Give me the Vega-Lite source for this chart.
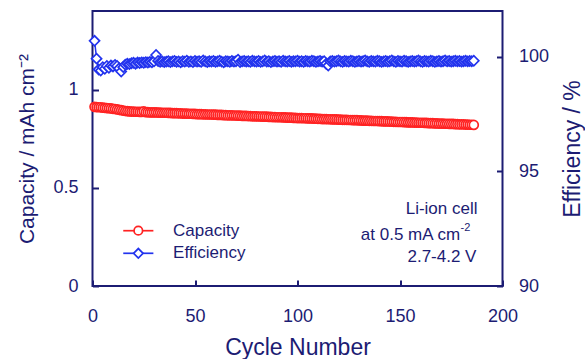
{
 "$schema": "https://vega.github.io/schema/vega-lite/v6.json",
 "width": 410, "height": 275,
 "autosize": "none",
 "padding": {"left": 92.5, "top": 11, "right": 82.5, "bottom": 73},
 "background": "white",
 "config": {
  "font": "Liberation Sans",
  "view": {"stroke": "#1c1c73", "strokeWidth": 2},
  "axis": {"domain": false, "grid": false, "tickColor": "#1c1c73", "tickWidth": 2, "tickSize": -6, "labelColor": "#1c1c73", "titleColor": "#1c1c73", "labelFont": "Liberation Sans", "titleFont": "Liberation Sans", "labelFontSize": 18, "titleFontSize": 21, "titleFontWeight": "normal", "labelFlush": false, "labelOverlap": false, "titleAlign": "center", "titleBaseline": "middle"}
 },
 "data": {"values": [
  {"cycle":1,"capacity":0.912,"efficiency":100.70},
  {"cycle":2,"capacity":0.911,"efficiency":99.92},
  {"cycle":3,"capacity":0.910,"efficiency":99.45},
  {"cycle":4,"capacity":0.910,"efficiency":99.40},
  {"cycle":5,"capacity":0.908,"efficiency":99.55},
  {"cycle":6,"capacity":0.907,"efficiency":99.48},
  {"cycle":7,"capacity":0.906,"efficiency":99.60},
  {"cycle":8,"capacity":0.905,"efficiency":99.52},
  {"cycle":9,"capacity":0.904,"efficiency":99.62},
  {"cycle":10,"capacity":0.902,"efficiency":99.58},
  {"cycle":11,"capacity":0.901,"efficiency":99.65},
  {"cycle":12,"capacity":0.899,"efficiency":99.60},
  {"cycle":13,"capacity":0.897,"efficiency":99.50},
  {"cycle":14,"capacity":0.895,"efficiency":99.36},
  {"cycle":15,"capacity":0.893,"efficiency":99.55},
  {"cycle":16,"capacity":0.891,"efficiency":99.66},
  {"cycle":17,"capacity":0.890,"efficiency":99.70},
  {"cycle":18,"capacity":0.889,"efficiency":99.68},
  {"cycle":19,"capacity":0.888,"efficiency":99.72},
  {"cycle":20,"capacity":0.888,"efficiency":99.74},
  {"cycle":21,"capacity":0.887,"efficiency":99.70},
  {"cycle":22,"capacity":0.887,"efficiency":99.75},
  {"cycle":23,"capacity":0.886,"efficiency":99.73},
  {"cycle":24,"capacity":0.886,"efficiency":99.76},
  {"cycle":25,"capacity":0.889,"efficiency":99.74},
  {"cycle":26,"capacity":0.885,"efficiency":99.77},
  {"cycle":27,"capacity":0.885,"efficiency":99.75},
  {"cycle":28,"capacity":0.884,"efficiency":99.78},
  {"cycle":29,"capacity":0.884,"efficiency":99.76},
  {"cycle":30,"capacity":0.884,"efficiency":99.80},
  {"cycle":31,"capacity":0.884,"efficiency":100.08},
  {"cycle":32,"capacity":0.883,"efficiency":99.82},
  {"cycle":33,"capacity":0.883,"efficiency":99.78},
  {"cycle":34,"capacity":0.882,"efficiency":99.80},
  {"cycle":35,"capacity":0.882,"efficiency":99.77},
  {"cycle":36,"capacity":0.882,"efficiency":99.79},
  {"cycle":37,"capacity":0.881,"efficiency":99.81},
  {"cycle":38,"capacity":0.881,"efficiency":99.77},
  {"cycle":39,"capacity":0.880,"efficiency":99.80},
  {"cycle":40,"capacity":0.880,"efficiency":99.82},
  {"cycle":41,"capacity":0.880,"efficiency":99.78},
  {"cycle":42,"capacity":0.879,"efficiency":99.80},
  {"cycle":43,"capacity":0.879,"efficiency":99.76},
  {"cycle":44,"capacity":0.878,"efficiency":99.81},
  {"cycle":45,"capacity":0.878,"efficiency":99.79},
  {"cycle":46,"capacity":0.878,"efficiency":99.83},
  {"cycle":47,"capacity":0.877,"efficiency":99.78},
  {"cycle":48,"capacity":0.877,"efficiency":99.80},
  {"cycle":49,"capacity":0.876,"efficiency":99.77},
  {"cycle":50,"capacity":0.876,"efficiency":99.82},
  {"cycle":51,"capacity":0.875,"efficiency":99.79},
  {"cycle":52,"capacity":0.875,"efficiency":99.81},
  {"cycle":53,"capacity":0.875,"efficiency":99.78},
  {"cycle":54,"capacity":0.874,"efficiency":99.84},
  {"cycle":55,"capacity":0.874,"efficiency":99.80},
  {"cycle":56,"capacity":0.873,"efficiency":99.77},
  {"cycle":57,"capacity":0.873,"efficiency":99.81},
  {"cycle":58,"capacity":0.873,"efficiency":99.79},
  {"cycle":59,"capacity":0.872,"efficiency":99.82},
  {"cycle":60,"capacity":0.872,"efficiency":99.78},
  {"cycle":61,"capacity":0.871,"efficiency":99.80},
  {"cycle":62,"capacity":0.871,"efficiency":99.83},
  {"cycle":63,"capacity":0.871,"efficiency":99.79},
  {"cycle":64,"capacity":0.870,"efficiency":99.76},
  {"cycle":65,"capacity":0.870,"efficiency":99.81},
  {"cycle":66,"capacity":0.869,"efficiency":99.80},
  {"cycle":67,"capacity":0.869,"efficiency":99.78},
  {"cycle":68,"capacity":0.869,"efficiency":99.82},
  {"cycle":69,"capacity":0.868,"efficiency":99.79},
  {"cycle":70,"capacity":0.868,"efficiency":99.81},
  {"cycle":71,"capacity":0.867,"efficiency":99.88},
  {"cycle":72,"capacity":0.867,"efficiency":99.77},
  {"cycle":73,"capacity":0.866,"efficiency":99.80},
  {"cycle":74,"capacity":0.866,"efficiency":99.82},
  {"cycle":75,"capacity":0.866,"efficiency":99.79},
  {"cycle":76,"capacity":0.865,"efficiency":99.81},
  {"cycle":77,"capacity":0.865,"efficiency":99.78},
  {"cycle":78,"capacity":0.864,"efficiency":99.83},
  {"cycle":79,"capacity":0.864,"efficiency":99.80},
  {"cycle":80,"capacity":0.864,"efficiency":99.79},
  {"cycle":81,"capacity":0.863,"efficiency":99.82},
  {"cycle":82,"capacity":0.863,"efficiency":99.78},
  {"cycle":83,"capacity":0.862,"efficiency":99.80},
  {"cycle":84,"capacity":0.862,"efficiency":99.84},
  {"cycle":85,"capacity":0.862,"efficiency":99.79},
  {"cycle":86,"capacity":0.861,"efficiency":99.81},
  {"cycle":87,"capacity":0.861,"efficiency":99.77},
  {"cycle":88,"capacity":0.860,"efficiency":99.80},
  {"cycle":89,"capacity":0.860,"efficiency":99.82},
  {"cycle":90,"capacity":0.859,"efficiency":99.79},
  {"cycle":91,"capacity":0.859,"efficiency":99.81},
  {"cycle":92,"capacity":0.859,"efficiency":99.78},
  {"cycle":93,"capacity":0.858,"efficiency":99.83},
  {"cycle":94,"capacity":0.858,"efficiency":99.80},
  {"cycle":95,"capacity":0.857,"efficiency":99.79},
  {"cycle":96,"capacity":0.857,"efficiency":99.82},
  {"cycle":97,"capacity":0.857,"efficiency":99.78},
  {"cycle":98,"capacity":0.856,"efficiency":99.81},
  {"cycle":99,"capacity":0.856,"efficiency":99.80},
  {"cycle":100,"capacity":0.855,"efficiency":99.83},
  {"cycle":101,"capacity":0.855,"efficiency":99.79},
  {"cycle":102,"capacity":0.855,"efficiency":99.81},
  {"cycle":103,"capacity":0.854,"efficiency":99.78},
  {"cycle":104,"capacity":0.854,"efficiency":99.82},
  {"cycle":105,"capacity":0.853,"efficiency":99.80},
  {"cycle":106,"capacity":0.853,"efficiency":99.79},
  {"cycle":107,"capacity":0.853,"efficiency":99.83},
  {"cycle":108,"capacity":0.852,"efficiency":99.81},
  {"cycle":109,"capacity":0.852,"efficiency":99.78},
  {"cycle":110,"capacity":0.851,"efficiency":99.80},
  {"cycle":111,"capacity":0.851,"efficiency":99.82},
  {"cycle":112,"capacity":0.850,"efficiency":99.79},
  {"cycle":113,"capacity":0.850,"efficiency":99.81},
  {"cycle":114,"capacity":0.850,"efficiency":99.70},
  {"cycle":115,"capacity":0.849,"efficiency":99.62},
  {"cycle":116,"capacity":0.849,"efficiency":99.80},
  {"cycle":117,"capacity":0.848,"efficiency":99.82},
  {"cycle":118,"capacity":0.848,"efficiency":99.79},
  {"cycle":119,"capacity":0.848,"efficiency":99.81},
  {"cycle":120,"capacity":0.847,"efficiency":99.84},
  {"cycle":121,"capacity":0.847,"efficiency":99.80},
  {"cycle":122,"capacity":0.846,"efficiency":99.78},
  {"cycle":123,"capacity":0.846,"efficiency":99.82},
  {"cycle":124,"capacity":0.846,"efficiency":99.80},
  {"cycle":125,"capacity":0.845,"efficiency":99.79},
  {"cycle":126,"capacity":0.845,"efficiency":99.83},
  {"cycle":127,"capacity":0.844,"efficiency":99.81},
  {"cycle":128,"capacity":0.844,"efficiency":99.78},
  {"cycle":129,"capacity":0.844,"efficiency":99.80},
  {"cycle":130,"capacity":0.843,"efficiency":99.82},
  {"cycle":131,"capacity":0.843,"efficiency":99.79},
  {"cycle":132,"capacity":0.842,"efficiency":99.81},
  {"cycle":133,"capacity":0.842,"efficiency":99.84},
  {"cycle":134,"capacity":0.842,"efficiency":99.80},
  {"cycle":135,"capacity":0.841,"efficiency":99.78},
  {"cycle":136,"capacity":0.841,"efficiency":99.82},
  {"cycle":137,"capacity":0.840,"efficiency":99.80},
  {"cycle":138,"capacity":0.840,"efficiency":99.79},
  {"cycle":139,"capacity":0.840,"efficiency":99.83},
  {"cycle":140,"capacity":0.839,"efficiency":99.81},
  {"cycle":141,"capacity":0.839,"efficiency":99.78},
  {"cycle":142,"capacity":0.838,"efficiency":99.80},
  {"cycle":143,"capacity":0.838,"efficiency":99.82},
  {"cycle":144,"capacity":0.838,"efficiency":99.79},
  {"cycle":145,"capacity":0.837,"efficiency":99.81},
  {"cycle":146,"capacity":0.837,"efficiency":99.84},
  {"cycle":147,"capacity":0.836,"efficiency":99.80},
  {"cycle":148,"capacity":0.836,"efficiency":99.78},
  {"cycle":149,"capacity":0.835,"efficiency":99.82},
  {"cycle":150,"capacity":0.835,"efficiency":99.80},
  {"cycle":151,"capacity":0.835,"efficiency":99.79},
  {"cycle":152,"capacity":0.834,"efficiency":99.83},
  {"cycle":153,"capacity":0.834,"efficiency":99.81},
  {"cycle":154,"capacity":0.833,"efficiency":99.78},
  {"cycle":155,"capacity":0.833,"efficiency":99.80},
  {"cycle":156,"capacity":0.833,"efficiency":99.82},
  {"cycle":157,"capacity":0.832,"efficiency":99.79},
  {"cycle":158,"capacity":0.832,"efficiency":99.81},
  {"cycle":159,"capacity":0.831,"efficiency":99.84},
  {"cycle":160,"capacity":0.831,"efficiency":99.80},
  {"cycle":161,"capacity":0.831,"efficiency":99.78},
  {"cycle":162,"capacity":0.830,"efficiency":99.82},
  {"cycle":163,"capacity":0.830,"efficiency":99.80},
  {"cycle":164,"capacity":0.829,"efficiency":99.79},
  {"cycle":165,"capacity":0.829,"efficiency":99.83},
  {"cycle":166,"capacity":0.829,"efficiency":99.81},
  {"cycle":167,"capacity":0.828,"efficiency":99.78},
  {"cycle":168,"capacity":0.828,"efficiency":99.80},
  {"cycle":169,"capacity":0.827,"efficiency":99.82},
  {"cycle":170,"capacity":0.827,"efficiency":99.79},
  {"cycle":171,"capacity":0.827,"efficiency":99.81},
  {"cycle":172,"capacity":0.826,"efficiency":99.84},
  {"cycle":173,"capacity":0.826,"efficiency":99.80},
  {"cycle":174,"capacity":0.825,"efficiency":99.82},
  {"cycle":175,"capacity":0.825,"efficiency":99.79},
  {"cycle":176,"capacity":0.825,"efficiency":99.81},
  {"cycle":177,"capacity":0.824,"efficiency":99.83},
  {"cycle":178,"capacity":0.824,"efficiency":99.80},
  {"cycle":179,"capacity":0.823,"efficiency":99.82},
  {"cycle":180,"capacity":0.823,"efficiency":99.79},
  {"cycle":181,"capacity":0.823,"efficiency":99.81},
  {"cycle":182,"capacity":0.822,"efficiency":99.83},
  {"cycle":183,"capacity":0.822,"efficiency":99.80},
  {"cycle":184,"capacity":0.821,"efficiency":99.82},
  {"cycle":185,"capacity":0.821,"efficiency":99.81},
  {"cycle":186,"capacity":0.820,"efficiency":99.83}
 ]},
 "layer": [
  {"layer": [
   {"mark": {"type": "line", "color": "#ff2222", "strokeWidth": 1.5},
    "encoding": {
     "x": {"field": "cycle", "type": "quantitative", "scale": {"domain": [0, 200]},
       "axis": {"values": [0, 50, 100, 150, 200], "labelPadding": 27, "title": "Cycle Number", "titleFontSize": 23, "titleX": 205, "titleY": 61, "labelExpr": "'' + datum.value"}},
     "y": {"field": "capacity", "type": "quantitative", "scale": {"domain": [0, 1.4]},
       "axis": {"values": [0, 0.5, 1], "labelPadding": 20.5, "title": "Capacity / mAh cm⁻²", "titleAngle": -90, "titleX": -65.5, "titleY": 137.5, "labelExpr": "'' + datum.value"}}
    }},
   {"mark": {"type": "point", "shape": "circle", "filled": false, "fill": "white", "color": "#ff2222", "strokeWidth": 1.7, "size": 81, "opacity": 1},
    "encoding": {
     "x": {"field": "cycle", "type": "quantitative"},
     "y": {"field": "capacity", "type": "quantitative"}
    }},
   {"data": {"values": [{"s": "Capacity"}]}, "mark": {"type": "rule", "color": "#ff2222", "strokeWidth": 1.7},
    "encoding": {"x": {"datum": 15.0, "type": "quantitative"}, "x2": {"datum": 29.7}, "y": {"datum": 0.2815, "type": "quantitative"}}},
   {"data": {"values": [{"s": "Capacity"}]}, "mark": {"type": "point", "shape": "circle", "filled": false, "fill": "white", "color": "#ff2222", "strokeWidth": 1.7, "size": 72, "opacity": 1},
    "encoding": {"x": {"datum": 22.35, "type": "quantitative"}, "y": {"datum": 0.2815, "type": "quantitative"}}},
   {"data": {"values": [{"s": "Capacity"}]}, "mark": {"type": "text", "align": "left", "baseline": "middle", "fontSize": 17, "color": "#1c1c73"},
    "encoding": {"x": {"datum": 39.3, "type": "quantitative"}, "y": {"datum": 0.2815, "type": "quantitative"}, "text": {"field": "s"}}},
   {"data": {"values": [{"s": "Efficiency"}]}, "mark": {"type": "rule", "color": "#2233ee", "strokeWidth": 1.7},
    "encoding": {"x": {"datum": 15.0, "type": "quantitative"}, "x2": {"datum": 29.7}, "y": {"datum": 0.1665, "type": "quantitative"}}},
   {"data": {"values": [{"s": "Efficiency"}]}, "mark": {"type": "point", "shape": "diamond", "filled": false, "fill": "white", "color": "#2233ee", "strokeWidth": 1.7, "size": 90, "opacity": 1},
    "encoding": {"x": {"datum": 22.35, "type": "quantitative"}, "y": {"datum": 0.1665, "type": "quantitative"}}},
   {"data": {"values": [{"s": "Efficiency"}]}, "mark": {"type": "text", "align": "left", "baseline": "middle", "fontSize": 17, "color": "#1c1c73"},
    "encoding": {"x": {"datum": 39.3, "type": "quantitative"}, "y": {"datum": 0.1665, "type": "quantitative"}, "text": {"field": "s"}}},
   {"data": {"values": [{"t": "Li-ion cell"}]}, "mark": {"type": "text", "align": "right", "baseline": "middle", "fontSize": 17, "color": "#1c1c73"},
    "encoding": {"x": {"datum": 187.8, "type": "quantitative"}, "y": {"datum": 0.392, "type": "quantitative"}, "text": {"field": "t"}}},
   {"data": {"values": [{"t": "at 0.5 mA cm"}]}, "mark": {"type": "text", "align": "right", "baseline": "middle", "fontSize": 17, "color": "#1c1c73"},
    "encoding": {"x": {"datum": 179.3, "type": "quantitative"}, "y": {"datum": 0.26, "type": "quantitative"}, "text": {"field": "t"}}},
   {"data": {"values": [{"t": "-2"}]}, "mark": {"type": "text", "align": "left", "baseline": "middle", "fontSize": 11, "color": "#1c1c73"},
    "encoding": {"x": {"datum": 179.5, "type": "quantitative"}, "y": {"datum": 0.295, "type": "quantitative"}, "text": {"field": "t"}}},
   {"data": {"values": [{"t": "2.7-4.2 V"}]}, "mark": {"type": "text", "align": "right", "baseline": "middle", "fontSize": 17, "color": "#1c1c73"},
    "encoding": {"x": {"datum": 187.3, "type": "quantitative"}, "y": {"datum": 0.148, "type": "quantitative"}, "text": {"field": "t"}}}
  ]},
  {"layer": [
   {"mark": {"type": "line", "color": "#2233ee", "strokeWidth": 1.5},
    "encoding": {
     "x": {"field": "cycle", "type": "quantitative"},
     "y": {"field": "efficiency", "type": "quantitative", "scale": {"domain": [90, 102]},
       "axis": {"orient": "right", "values": [90, 95, 100], "labelPadding": 22, "title": "Efficiency / %", "titleFontSize": 23, "titleAngle": -90, "titleX": 70, "titleY": 137.5, "labelExpr": "'' + datum.value"}}
    }},
   {"mark": {"type": "point", "shape": "diamond", "filled": false, "fill": "white", "color": "#2233ee", "strokeWidth": 1.7, "size": 100, "opacity": 1},
    "encoding": {
     "x": {"field": "cycle", "type": "quantitative"},
     "y": {"field": "efficiency", "type": "quantitative"}
    }}
  ]}
 ],
 "resolve": {"scale": {"y": "independent"}}
}
